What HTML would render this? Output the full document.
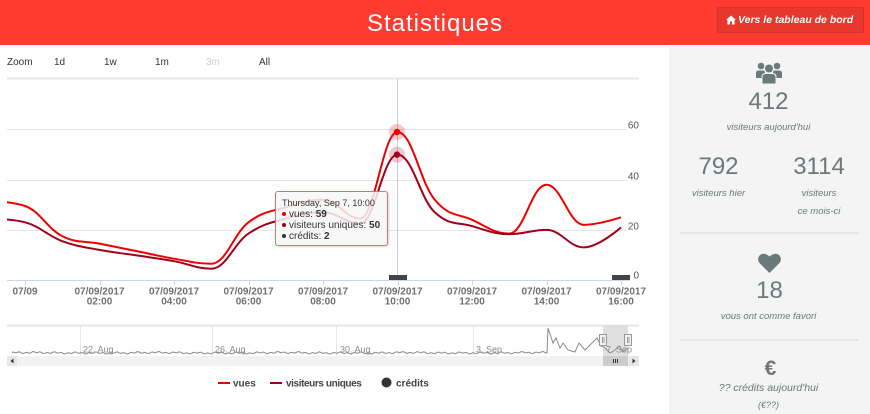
<!DOCTYPE html>
<html><head><meta charset="utf-8">
<style>
*{margin:0;padding:0;box-sizing:border-box}
body{width:870px;height:414px;overflow:hidden;background:#fff;font-family:"Liberation Sans",sans-serif;position:relative}
.a{position:absolute;white-space:nowrap}
.sb{color:#6a7979;text-align:center}
.it{font-style:italic;font-size:9.5px;line-height:12px}
.num{font-size:24px;line-height:24px}
.tt{font-family:"Liberation Sans",sans-serif;font-size:10px;color:#333;line-height:11px;position:absolute;left:6px}
.dot{display:inline-block;width:4px;height:4px;border-radius:50%;margin-right:3px;vertical-align:1px}
</style></head><body>

<!-- header -->
<div class="a" style="left:0;top:0;width:870px;height:45px;background:#ff3b30"></div>
<div class="a" style="left:0;top:12px;width:870px;text-align:center;color:#fff;font-size:24px;line-height:24px;letter-spacing:1px">Statistiques</div>
<div class="a" style="left:717px;top:7px;width:147px;height:26px;background:#e8372d;border:1px solid #d3312a;border-radius:2px"></div>
<svg class="a" style="left:726px;top:15px" width="10" height="10" viewBox="0 0 10 10"><path d="M5 0.5 L0 5 L1.4 5 L1.4 9.5 L4 9.5 L4 6.5 L6 6.5 L6 9.5 L8.6 9.5 L8.6 5 L10 5 Z" fill="#fff"/></svg>
<div class="a" style="left:738px;top:14px;color:#fff;font-size:10.5px;line-height:12px;font-weight:bold;font-style:italic">Vers le tableau de bord</div>

<!-- sidebar -->
<div class="a" style="left:669px;top:46px;width:201px;height:368px;background:#f4f4f4"></div>
<svg class="a" style="left:756px;top:62px" width="26" height="22" viewBox="0 0 26 22">
<g fill="#6a7979">
<circle cx="5" cy="4" r="3.3"/><circle cx="21" cy="4" r="3.3"/>
<path d="M0 16 L0 11 Q0 8.5 3 8.5 L7 8.5 Q9 8.5 9 11 L9 16 Z"/>
<path d="M17 16 L17 11 Q17 8.5 19 8.5 L23 8.5 Q26 8.5 26 11 L26 16 Z"/>
<circle cx="13" cy="6.5" r="4.5" stroke="#f4f4f4" stroke-width="1"/>
<path d="M6 22 L6 15 Q6 11.5 10 11.5 L16 11.5 Q20 11.5 20 15 L20 22 Z" stroke="#f4f4f4" stroke-width="1"/>
</g></svg>
<div class="a sb num" style="left:668px;top:90px;width:201px">412</div>
<div class="a sb it" style="left:668px;top:122px;width:201px">visiteurs aujourd'hui</div>
<div class="a sb num" style="left:668px;top:155px;width:101px">792</div>
<div class="a sb num" style="left:769px;top:155px;width:100px">3114</div>
<div class="a sb it" style="left:668px;top:188px;width:101px">visiteurs hier</div>
<div class="a sb it" style="left:769px;top:188px;width:100px">visiteurs</div>
<div class="a sb it" style="left:769px;top:206px;width:100px">ce mois-ci</div>
<div class="a" style="left:680px;top:232px;width:179px;height:2px;background:#e6e6e6"></div>
<svg class="a" style="left:758px;top:253px" width="23" height="20" viewBox="0 0 23 20"><path d="M11.5 20 L2 10.5 Q-1.5 6.5 1.5 2.5 Q5.5 -1.5 11.5 3.5 Q17.5 -1.5 21.5 2.5 Q24.5 6.5 21 10.5 Z" fill="#6a7979"/></svg>
<div class="a sb num" style="left:669px;top:279px;width:201px">18</div>
<div class="a sb it" style="left:668px;top:311px;width:201px">vous ont comme favori</div>
<div class="a" style="left:680px;top:339px;width:179px;height:2px;background:#e6e6e6"></div>
<div class="a sb" style="left:670px;top:358px;width:201px;font-size:21px;line-height:21px;font-weight:bold">€</div>
<div class="a sb" style="left:668px;top:381px;width:201px;font-size:10.5px;line-height:14px;font-style:italic">?? crédits aujourd'hui</div>
<div class="a sb" style="left:668px;top:399px;width:201px;font-size:9px;line-height:12px;font-style:italic">(€??)</div>

<!-- chart -->
<svg class="a" style="left:0;top:0" width="870" height="414" viewBox="0 0 870 414">
<defs><clipPath id="cp"><rect x="7" y="79" width="623" height="206"/></clipPath></defs>
<g font-family="Liberation Sans, sans-serif">
<text x="7" y="65" font-size="10" fill="#333">Zoom</text>
<text x="54" y="65" font-size="10" fill="#333">1d</text>
<text x="104" y="65" font-size="10" fill="#333">1w</text>
<text x="155" y="65" font-size="10" fill="#333">1m</text>
<text x="206" y="65" font-size="10" fill="#ccc">3m</text>
<text x="259" y="65" font-size="10" fill="#333">All</text>
</g>
<rect x="7" y="77.5" width="632" height="2" fill="#e8e8e8"/>
<g stroke="#e6e6e6" stroke-width="1">
<line x1="7" y1="129.5" x2="627" y2="129.5"/>
<line x1="7" y1="180.5" x2="627" y2="180.5"/>
<line x1="7" y1="230.5" x2="627" y2="230.5"/>
</g>
<line x1="397.5" y1="79" x2="397.5" y2="280" stroke="#ccc" stroke-width="1"/>
<g font-family="Liberation Sans, sans-serif" font-size="10" fill="#555" text-anchor="end">
<text x="639" y="128.6">60</text>
<text x="639" y="179.6">40</text>
<text x="639" y="229.3">20</text>
<text x="639" y="278.6">0</text>
</g>
<line x1="7" y1="280.5" x2="630" y2="280.5" stroke="#ccd6eb" stroke-width="1"/>
<g id="ticks" stroke="#ccd6eb" stroke-width="1"></g>
<g id="xl" font-family="Liberation Sans, sans-serif" font-size="10" font-weight="bold" fill="#707070" text-anchor="middle"></g>
<rect x="389" y="275" width="18" height="5" fill="#444"/>
<rect x="612" y="275" width="18" height="5" fill="#444"/>
<g clip-path="url(#cp)" fill="none" stroke-width="2" stroke-linejoin="round">
<path id="pv" stroke="#ee0000"/>
<path id="pu" stroke="#a0001b"/>
</g>
<circle cx="397" cy="132" r="8" fill="#ff0000" fill-opacity="0.22"/>
<circle cx="397" cy="132" r="3.2" fill="#ee0000"/>
<circle cx="397" cy="154.6" r="8" fill="#b0002a" fill-opacity="0.22"/>
<circle cx="397" cy="154.6" r="3.2" fill="#a0001b"/>

<!-- navigator -->
<rect x="7" y="324.5" width="632" height="2" fill="#e6e6e6"/>
<g stroke="#e6e6e6" stroke-width="1">
<line x1="80.5" y1="326" x2="80.5" y2="356"/>
<line x1="212.5" y1="326" x2="212.5" y2="356"/>
<line x1="336.5" y1="326" x2="336.5" y2="356"/>
<line x1="473.5" y1="326" x2="473.5" y2="356"/>
</g>
<g font-family="Liberation Sans, sans-serif" font-size="9" fill="#888">
<text x="83" y="352.5">22. Aug</text>
<text x="215" y="352.5">26. Aug</text>
<text x="340" y="352.5">30. Aug</text>
<text x="476" y="352.5">3. Sep</text>
<text x="606" y="352.5">7. Sep</text>
</g>
<path id="nav" fill="none" stroke="#8a8a8a" stroke-width="1"/>
<rect x="603" y="326" width="25" height="30" fill="#999" fill-opacity="0.3"/>
<g fill="#f2f2f2" stroke="#999" stroke-width="1">
<rect x="599.5" y="334.5" width="7" height="11"/>
<rect x="624.5" y="334.5" width="7" height="11"/>
</g>
<g stroke="#999" stroke-width="1">
<line x1="602.5" y1="337" x2="602.5" y2="343"/><line x1="604" y1="337" x2="604" y2="343"/>
<line x1="627.5" y1="337" x2="627.5" y2="343"/><line x1="629" y1="337" x2="629" y2="343"/>
</g>
<rect x="7" y="356" width="632" height="10" fill="#f2f2f2"/>
<rect x="7" y="356" width="10" height="10" fill="#e6e6e6"/>
<rect x="629" y="356" width="10" height="10" fill="#e6e6e6"/>
<path d="M13.5 358.5 L10.5 361 L13.5 363.5 Z" fill="#333"/>
<path d="M632.5 358.5 L635.5 361 L632.5 363.5 Z" fill="#333"/>
<rect x="603" y="356" width="25" height="10" fill="#cccccc"/>
<g stroke="#333" stroke-width="1">
<line x1="613.5" y1="359" x2="613.5" y2="363"/><line x1="615.5" y1="359" x2="615.5" y2="363"/><line x1="617.5" y1="359" x2="617.5" y2="363"/>
</g>

<!-- legend -->
<g font-family="Liberation Sans, sans-serif" font-size="10" font-weight="bold" fill="#444">
<line x1="218" y1="383" x2="230" y2="383" stroke="#ee0000" stroke-width="2"/>
<text x="233" y="386.5">vues</text>
<line x1="270" y1="383" x2="282" y2="383" stroke="#a0001b" stroke-width="2"/>
<text x="286" y="386.5" letter-spacing="-0.4">visiteurs uniques</text>
<circle cx="386.5" cy="382.5" r="5" fill="#333"/>
<text x="396" y="386.5">crédits</text>
</g>
</svg>

<!-- tooltip -->
<div class="a" style="left:275px;top:191px;width:113px;height:55px;background:rgba(247,247,247,0.85);border:1px solid #e86a6a;border-radius:3px;box-shadow:1px 1px 2px rgba(0,0,0,0.15)">
<div class="tt" style="top:6px;font-size:9px">Thursday, Sep 7, 10:00</div>
<div class="tt" style="top:17px"><span class="dot" style="background:#ee0000"></span>vues: <b>59</b></div>
<div class="tt" style="top:28px"><span class="dot" style="background:#a0001b"></span>visiteurs uniques: <b>50</b></div>
<div class="tt" style="top:39px"><span class="dot" style="background:#333"></span>crédits: <b>2</b></div>
</div>

<script>
(function(){
var X=function(h){return 25+37.25*h;},Y=function(v){return 280-2.508*v;};
var vues=[31.5,29.5,17.5,14.5,11.5,8.5,6.5,23,29,32,24.5,59,32,24,18.5,38,22,25];
var uniq=[24.5,23,15.5,12,9.8,7.5,4.5,18.5,24.5,27,22.5,50,27,21.5,18.3,20,13,21];
function spline(pts){
  var s=1.5,d=s+1,cs=[],path='M'+pts[0][0].toFixed(2)+','+pts[0][1].toFixed(2);
  for(var i=0;i<pts.length;i++){
    var px=pts[i][0],py=pts[i][1],lcx=null,lcy=null,rcx=null,rcy=null;
    if(i>0&&i<pts.length-1){
      var lx=pts[i-1][0],ly=pts[i-1][1],nx=pts[i+1][0],ny=pts[i+1][1];
      lcx=(s*px+lx)/d;lcy=(s*py+ly)/d;rcx=(s*px+nx)/d;rcy=(s*py+ny)/d;
      var corr=((rcy-lcy)*(rcx-px))/(rcx-lcx)+py-rcy;
      lcy+=corr;rcy+=corr;
      if(lcy>ly&&lcy>py){lcy=Math.max(ly,py);rcy=2*py-lcy;}
      else if(lcy<ly&&lcy<py){lcy=Math.min(ly,py);rcy=2*py-lcy;}
      if(rcy>ny&&rcy>py){rcy=Math.max(ny,py);lcy=2*py-rcy;}
      else if(rcy<ny&&rcy<py){rcy=Math.min(ny,py);lcy=2*py-rcy;}
    }
    if(i>0){
      var p=cs[i-1],q=pts[i-1];
      var a=p.rcx!==null?p.rcx:q[0],b=p.rcy!==null?p.rcy:q[1];
      var c=lcx!==null?lcx:px,e=lcy!==null?lcy:py;
      path+=' C'+a.toFixed(2)+','+b.toFixed(2)+' '+c.toFixed(2)+','+e.toFixed(2)+' '+px.toFixed(2)+','+py.toFixed(2);
    }
    cs[i]={rcx:rcx,rcy:rcy};
  }
  return path;
}
function mk(arr){return arr.map(function(v,i){return [X(i-1),Y(v)];});}
document.getElementById('pv').setAttribute('d',spline(mk(vues)));
document.getElementById('pu').setAttribute('d',spline(mk(uniq)));
var NS='http://www.w3.org/2000/svg',tk=document.getElementById('ticks'),xl=document.getElementById('xl');
for(var h=0;h<=16;h+=2){
  var x=X(h);
  var l=document.createElementNS(NS,'line');
  l.setAttribute('x1',Math.round(x)+0.5);l.setAttribute('x2',Math.round(x)+0.5);
  l.setAttribute('y1',280);l.setAttribute('y2',285);tk.appendChild(l);
  if(h===0){
    var t=document.createElementNS(NS,'text');t.setAttribute('x',x);t.setAttribute('y',294.3);t.textContent='07/09';xl.appendChild(t);
  } else {
    var t1=document.createElementNS(NS,'text');t1.setAttribute('x',x);t1.setAttribute('y',294.3);t1.textContent='07/09/2017';xl.appendChild(t1);
    var t2=document.createElementNS(NS,'text');t2.setAttribute('x',x);t2.setAttribute('y',304.3);t2.textContent=(h<10?'0':'')+h+':00';xl.appendChild(t2);
  }
}
var d='M12,353';
for(var xx=13;xx<=546;xx+=2){
  var y=353+0.7*Math.sin(xx*0.9)+0.5*Math.sin(xx*0.31)-0.5*Math.max(0,Math.sin(xx*0.05));
  d+=' L'+xx+','+y.toFixed(1);
}
var sp=[[547,353],[548,328],[553,343],[556,338],[560,348],[563,343],[568,350],[575,352],[579,343],[585,350],[590,345],[597,338],[601,346],[605,348],[610,353],[615,350],[619,346],[623,352],[628,348]];
sp.forEach(function(p){d+=' L'+p[0]+','+p[1];});
document.getElementById('nav').setAttribute('d',d);
})();
</script>
</body></html>
